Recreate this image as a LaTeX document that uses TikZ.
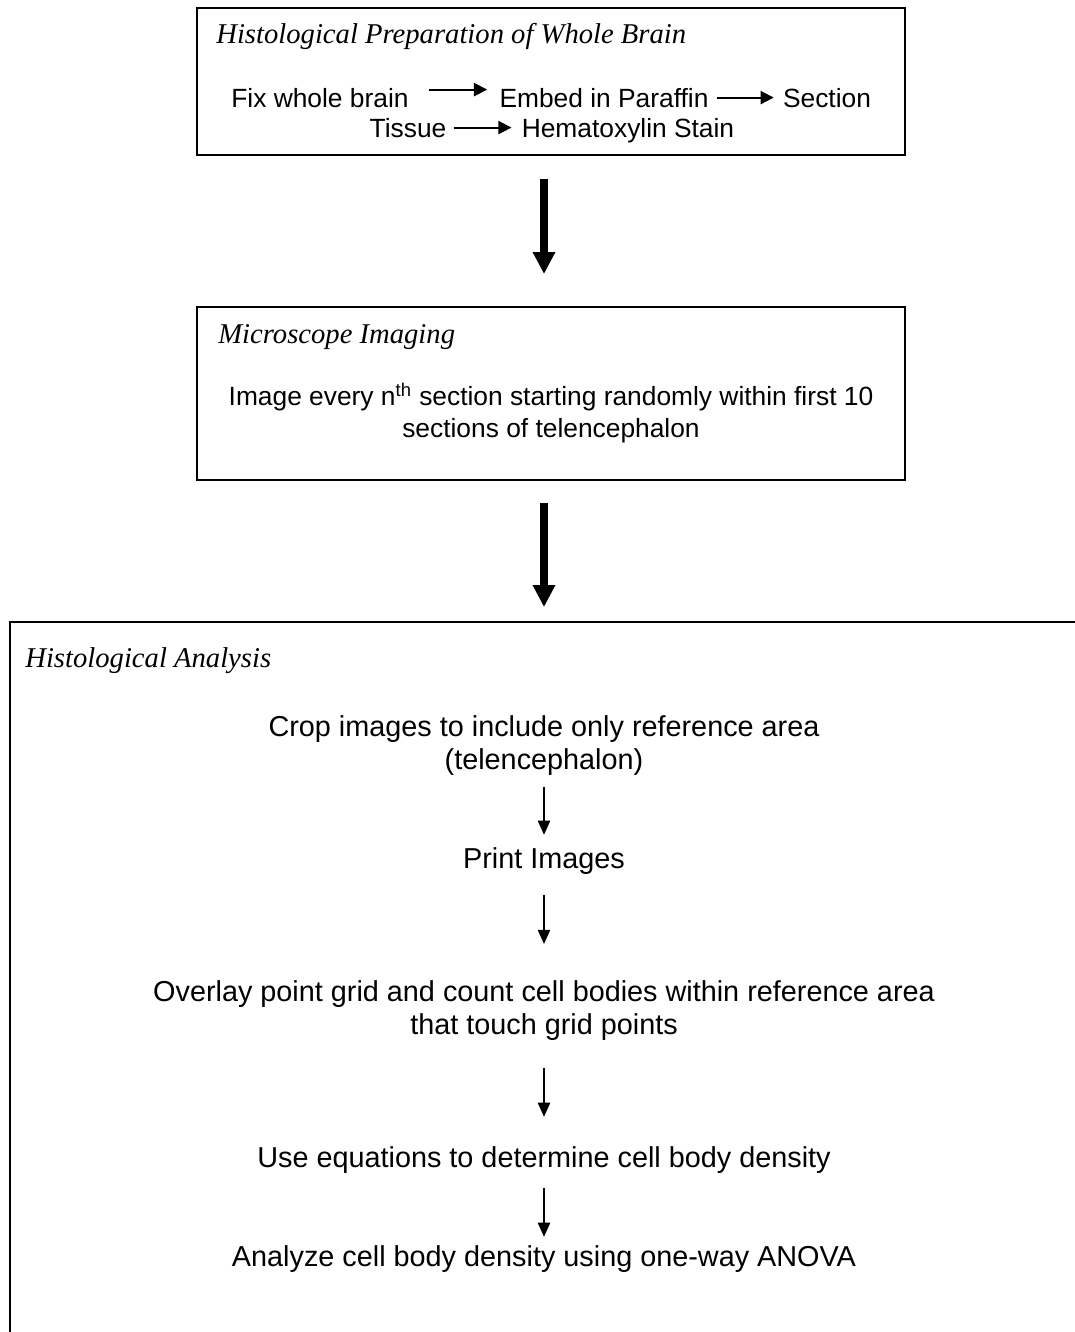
\documentclass[tikz,border=0pt]{standalone}
\usepackage{fontspec}
\setmainfont{Liberation Sans}
\newfontfamily\titlefont{Liberation Serif}
\usetikzlibrary{arrows.meta,positioning}
\tikzset{
  stagebox/.style={draw, line width=1.1pt, inner sep=0pt},
  boxtitle/.style={font=\titlefont\itshape\fontsize{16.3}{19}\selectfont, anchor=base west, inner sep=0pt},
  toptext/.style={font=\fontsize{15}{18.1}\selectfont, anchor=base, inner sep=0pt, align=center},
  steptext/.style={font=\fontsize{16.4}{18.7}\selectfont, anchor=base, inner sep=0pt, align=center},
  bigarrow/.style={line width=4pt, -{Triangle[length=12.5pt,width=12pt]}},
  prepline/.style={line width=1.1pt, -{Triangle[length=7.5pt,width=7.5pt]}},
  stepline/.style={line width=0.8pt, -{Triangle[length=8pt,width=7pt]}}
}
\begin{document}
\begin{tikzpicture}[x=0.02cm,y=-0.02cm]
\useasboundingbox (0,0) rectangle (1075,1332);
% the three stages
\node (prep) [stagebox, minimum width=14.16cm, minimum height=2.94cm] at (551,81.5) {};
\node (imaging) [stagebox, minimum width=14.16cm, minimum height=3.46cm] at (551,393.5) {};
\node (analysis) [stagebox, minimum width=21.8cm, minimum height=14.76cm] at (555,991) {};
\node[boxtitle] (preptitle) at (216,43) {Histological Preparation of Whole Brain};
\node[boxtitle] (imgtitle) at (218,343) {Microscope Imaging};
\node[boxtitle] (antitle) at (25,667) {Histological Analysis};
% preparation steps
\node[toptext] (fix) at (320,107) {Fix whole brain};
\node[toptext] (embed) at (604,107) {Embed in Paraffin};
\node[toptext] (section) at (827,107) {Section};
\node[toptext] (tissue) at (408,137) {Tissue};
\node[toptext] (stain) at (628,137) {Hematoxylin Stain};
\draw[prepline, shorten <=0.4cm, shorten >=0.24cm] ([yshift=0.16cm]fix.east) -- ([yshift=0.16cm]fix.east -| embed.west);
\draw[prepline, shorten <=0.16cm, shorten >=0.18cm] (embed.east) -- (embed.east -| section.west);
\draw[prepline, shorten <=0.14cm, shorten >=0.2cm] (tissue.east) -- (tissue.east -| stain.west);
\node[toptext] (image) at (551,437) {Image every n\textsuperscript{th} section starting randomly within first 10\\sections of telencephalon};
% analysis steps
\node[steptext] (crop) at (544,769) {Crop images to include only reference area\\(telencephalon)};
\node[steptext] (print) at (544,868) {Print Images};
\node[steptext] (overlay) at (544,1034) {Overlay point grid and count cell bodies within reference area\\that touch grid points};
\node[steptext] (density) at (544,1167) {Use equations to determine cell body density};
\node[steptext] (anova) at (544,1266) {Analyze cell body density using one-way ANOVA};
\draw[stepline, shorten <=0.24cm, shorten >=0.24cm] (crop.south) -- (print.north);
\draw[stepline, shorten <=0.42cm, shorten >=0.72cm] (print.south) -- (overlay.north);
\draw[stepline, shorten <=0.56cm, shorten >=0.58cm] (overlay.south) -- (density.north);
\draw[stepline, shorten <=0.3cm, shorten >=0.16cm] (density.south) -- (anova.north);
% between stages
\draw[bigarrow, shorten <=0.46cm, shorten >=0.64cm] (crop.north |- prep.south) -- (crop.north |- imaging.north);
\draw[bigarrow, shorten <=0.44cm, shorten >=0.28cm] (crop.north |- imaging.south) -- (crop.north |- analysis.north);
\end{tikzpicture}
\end{document}
